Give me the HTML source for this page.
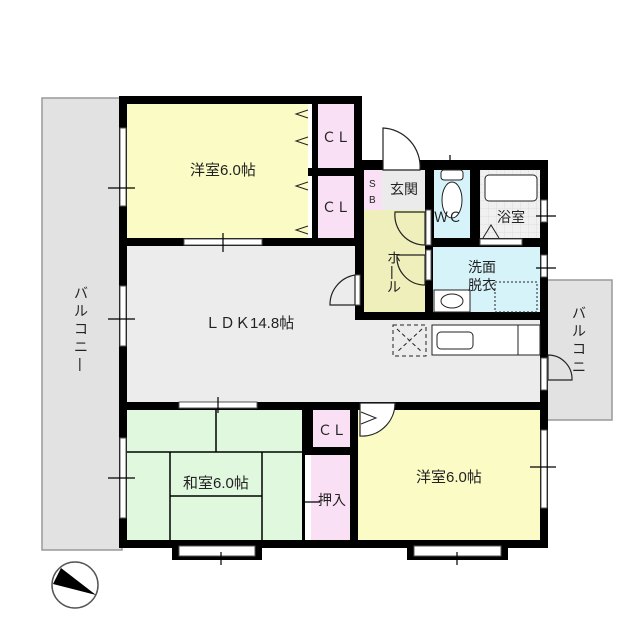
<!DOCTYPE html>
<html><head><meta charset="utf-8"><style>body{margin:0;background:#fff}svg{display:block}text{font-family:"Liberation Sans","Noto Sans CJK JP",sans-serif;fill:#222}</style></head><body>
<svg width="640" height="640" viewBox="0 0 640 640" xmlns="http://www.w3.org/2000/svg">
<defs><pattern id="tile" width="8" height="8" patternUnits="userSpaceOnUse"><rect width="8" height="8" fill="#f0f0f0"/><path d="M0 0H8M0 0V8" stroke="#d0d0d0" stroke-width="0.6"/></pattern></defs>
<rect x="42" y="98" width="80" height="452" fill="#e2e2e2" stroke="#999" stroke-width="1.5"/>
<rect x="546" y="280" width="66" height="140" fill="#e2e2e2" stroke="#999" stroke-width="1.5"/>
<rect x="119" y="96" width="243" height="224" fill="#000"/>
<rect x="355" y="160" width="193" height="160" fill="#000"/>
<rect x="119" y="240" width="429" height="308" fill="#000"/>
<rect x="127" y="104" width="181" height="134" fill="#fbfbc6"/>
<rect x="318" y="104" width="36" height="64" fill="#f9e0f4"/>
<rect x="318" y="176" width="36" height="62" fill="#f9e0f4"/>
<rect x="308" y="104" width="4" height="64" fill="#fff"/><rect x="308" y="176" width="4" height="62" fill="#fff"/>
<rect x="364" y="170" width="18" height="40" fill="#f9e0f4"/>
<rect x="382" y="170" width="43" height="40" fill="#ebebeb"/>
<rect x="364" y="210" width="61" height="102" fill="#efefbb"/>
<rect x="434" y="170" width="36" height="68" fill="#d7f3fa"/>
<rect x="480" y="170" width="60" height="68" fill="url(#tile)"/>
<rect x="433" y="247" width="107" height="65" fill="#d7f3fa"/>
<rect x="127" y="246" width="228" height="156" fill="#ececec"/>
<rect x="350" y="320" width="190" height="82" fill="#ececec"/>
<rect x="127" y="410" width="175" height="130" fill="#e0f8de"/>
<rect x="313" y="410" width="37" height="37" fill="#f9e0f4"/>
<rect x="305" y="455" width="45" height="85" fill="#f9e0f4"/>
<rect x="305" y="455" width="6" height="85" fill="#fff"/>
<rect x="358" y="410" width="182" height="130" fill="#fbfbc6"/>
<rect x="172" y="540" width="90" height="20" fill="#000"/><rect x="179" y="546" width="76" height="10" fill="#fff" stroke="#555"/>
<rect x="407" y="540" width="101" height="20" fill="#000"/><rect x="414" y="546" width="87" height="10" fill="#fff" stroke="#555"/>
<g stroke="#000" stroke-width="1.5" fill="none">
<path d="M127 452H302M216 410V452M170 452V540M262 452V540M170 496H262"/>
</g>
<g fill="#fff" stroke="#555" stroke-width="1">
<rect x="120" y="128" width="6" height="78"/><rect x="120" y="286" width="6" height="60"/><rect x="120" y="438" width="6" height="80"/>
<rect x="184" y="239" width="78" height="6"/><rect x="179" y="402" width="78" height="6"/>
<rect x="541" y="430" width="6" height="78"/>
<rect x="480" y="239" width="42" height="6"/><rect x="541" y="200" width="6" height="22"/><rect x="541" y="255" width="6" height="22"/>
<rect x="541" y="358" width="6" height="32"/>
<rect x="355" y="275" width="5" height="30"/><rect x="426" y="250" width="5" height="30"/><rect x="426" y="210" width="5" height="35"/>
</g>
<g stroke="#000" stroke-width="1.2"><path d="M108 188H135M223 233V252M218 397V413M108 319H135M108 478H135M530 467H556M450 155V170M536 216H556M536 268H556M221 552V565M457 552V565M302 502H320"/></g>
<g fill="#fff" stroke="#222" stroke-width="1.2">
<path d="M383 170V128A39 39 0 0 1 420 170Z"/>
<path d="M425 212H395A30 30 0 0 0 425 245Z" fill="none"/>
<path d="M425 255H397A28 28 0 0 0 425 285Z" fill="none"/>
<path d="M355 275V305H330A30 30 0 0 1 355 275Z" fill="none"/>
<path d="M360 403H395A33 33 0 0 1 360 436Z"/>
<path d="M548 355A24 24 0 0 1 572 380H548Z" fill="none"/>
</g>
<g fill="none" stroke="#222" stroke-width="1">
<path d="M308 110L296 114L308 118M308 137L296 141L308 145M308 182L296 186L308 190M308 226L296 230L308 234M361 412L376 418L361 424"/>
<path d="M483 238L491 225L499 238"/>
<rect x="393" y="325" width="33" height="31" stroke-dasharray="4 3"/><path d="M397 329L422 352M422 329L397 352" stroke-dasharray="4 3"/>
<rect x="432" y="325" width="108" height="30" fill="#fff"/><rect x="437" y="332" width="36" height="17" rx="4"/><path d="M518 325V355"/>
<ellipse cx="452" cy="200" rx="10" ry="18" fill="#fff"/><rect x="441" y="170" width="22" height="10" rx="3" fill="#fff"/>
<rect x="485" y="175" width="52" height="26" rx="4" fill="#fff"/>
<rect x="434" y="290" width="36" height="22" fill="#fff"/><ellipse cx="452" cy="301" rx="11" ry="7"/>
<rect x="495" y="282" width="42" height="30" stroke-dasharray="2 2"/>
</g>
<circle cx="75" cy="585" r="23" fill="#fff" stroke="#555" stroke-width="1.5"/>
<path d="M61 568L53 584L96 595Z" fill="#000"/>
<g font-size="15">
<text x="190" y="175">洋室6.0帖</text>
<text x="205" y="328">ＬＤＫ14.8帖</text>
<text x="183" y="488">和室6.0帖</text>
<text x="416" y="482">洋室6.0帖</text>
</g>
<g font-size="14">
<text x="322" y="142">ＣＬ</text><text x="322" y="212">ＣＬ</text><text x="318" y="435">ＣＬ</text>
<text x="318" y="505">押入</text>
<text x="390" y="194">玄関</text><text x="434" y="222">ＷＣ</text><text x="497" y="222">浴室</text>
<text x="468" y="272">洗面</text><text x="468" y="290">脱衣</text>
<text x="387" y="263">ホ</text><text x="390" y="276">|</text><text x="387" y="292">ル</text>
</g>
<text x="369" y="187" font-size="10">S</text><text x="369" y="203" font-size="10">B</text>
<g font-size="14"><text x="74" y="298">バ</text><text x="74" y="316">ル</text><text x="74" y="334">コ</text><text x="74" y="352">ニ</text><text x="78" y="368">|</text>
<text x="572" y="318">バ</text><text x="572" y="336">ル</text><text x="572" y="354">コ</text><text x="572" y="372">ニ</text></g>
</svg>
</body></html>
